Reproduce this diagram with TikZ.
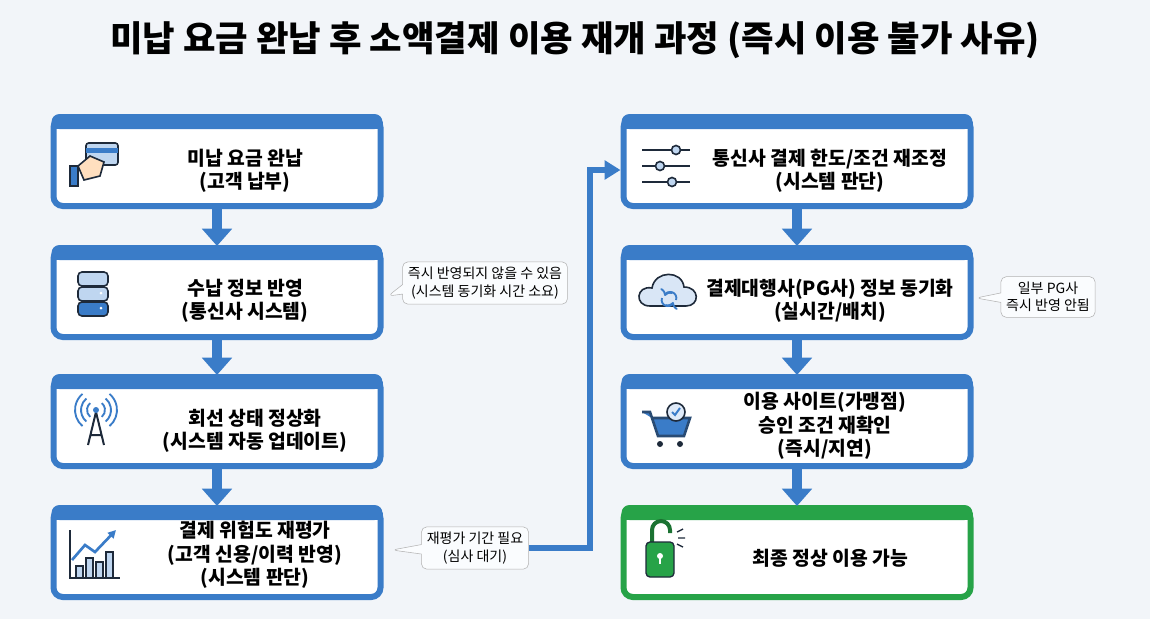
\documentclass[tikz,border=0pt]{standalone}
\usepackage{fontspec}
\setmainfont{Noto Sans CJK KR}
\usetikzlibrary{arrows.meta,shapes.callouts}
\definecolor{bg}{HTML}{F2F5F9}
\definecolor{bl}{HTML}{3A7CC8}
\definecolor{lb}{HTML}{BFD6F0}
\definecolor{gr}{HTML}{27A348}
\definecolor{dk}{HTML}{1E2A3A}
\begin{document}
\begin{tikzpicture}[x=0.75pt,y=-0.75pt,
  box/.style={draw=#1,line width=4.5pt,fill=white,rounded corners=7pt,minimum height=88*0.75pt},
  txt/.style={font=\bfseries\fontsize{14.5}{17.5}\selectfont,align=center,text=black},
  note/.style={draw=gray!60,fill=white!92!lb,rounded corners=4pt,font=\fontsize{10.5}{13}\selectfont,align=center,text=black,inner sep=4pt},
  arr/.style={draw=bl,line width=8pt,-{Triangle[width=22pt,length=13pt]}},
  ic/.style={draw=dk,line width=1.2pt,fill=lb}]
\fill[bg] (0,0) rectangle (1150,619);
\useasboundingbox (0,0) rectangle (1150,619);
\node[font=\bfseries\fontsize{26.5}{30}\selectfont] (title) at (575,40) {미납 요금 완납 후 소액결제 이용 재개 과정 (즉시 이용 불가 사유)};
% boxes
\foreach \n/\x/\y/\c/\w in {b1/217/162/bl/327,b2/217/293/bl/327,b3/217/422/bl/327,b4/217/553/bl/327,b5/797/162/bl/347,b6/797/293/bl/347,b7/797/422/bl/347,b8/797/553/gr/347}{
  \node[box=\c,minimum width=\w*0.75pt] (\n) at (\x,\y) {};
  \fill[\c,rounded corners=6pt] (\x-\w/2-2,\y-48) rectangle (\x+\w/2+2,\y-33);
  \fill[\c] (\x-\w/2-2,\y-40) rectangle (\x+\w/2+2,\y-33);
}
\node[txt] (t1) at (245,171) {미납 요금 완납\\(고객 납부)};
\node[txt] (t2) at (245,301) {수납 정보 반영\\(통신사 시스템)};
\node[txt] (t3) at (255,431) {회선 상태 정상화\\(시스템 자동 업데이트)};
\node[txt] (t4) at (255,555) {결제 위험도 재평가\\(고객 신용/이력 반영)\\(시스템 판단)};
\node[txt] (t5) at (830,171) {통신사 결제 한도/조건 재조정\\(시스템 판단)};
\node[txt] (t6) at (830,301) {결제대행사(PG사) 정보 동기화\\(실시간/배치)};
\node[txt] (t7) at (825,426) {이용 사이트(가맹점)\\승인 조건 재확인\\(즉시/지연)};
\node[txt] (t8) at (830,558) {최종 정상 이용 가능};
% arrows
\draw[arr] (b1.south) -- (b2.north);
\draw[arr] (b2.south) -- (b3.north);
\draw[arr] (b3.south) -- (b4.north);
\draw[arr] (b5.south) -- (b6.north);
\draw[arr] (b6.south) -- (b7.north);
\draw[arr] (b7.south) -- (b8.north);
% notes
\node[note,rectangle callout,callout absolute pointer={(388,296)}] (n1) at (485,283) {즉시 반영되지 않을 수 있음\\(시스템 동기화 시간 소요)};
\node[note,rectangle callout,callout absolute pointer={(976,298)}] (n2) at (1048,297) {일부 PG사\\즉시 반영 안됨};
\node[note,rectangle callout,callout absolute pointer={(392,550)}] (n3) at (475,548) {재평가 기간 필요\\(심사 대기)};
\coordinate (c1) at (590,548);
\coordinate (c2) at (590,170);
\draw[bl,line width=4pt,-{Triangle[width=14pt,length=12pt]}] (n3.east|-c1) -- (c1) -- (c2) -- (b5.west|-c2);
% icon 1 card+hand
\draw[ic,rounded corners=2pt] (86,143) rectangle (118,165);
\fill[bl] (86,148) rectangle (118,153);
\draw[dk,line width=1.2pt,fill=orange!25] (78,166) -- (90,156) -- (104,162) -- (100,176) -- (84,180) -- cycle;
\draw[ic,fill=bl] (70,166) rectangle (78,186);
% icon 2 database
\foreach \yy/\f in {272/lb,287/lb,302/bl}{
  \draw[ic,fill=\f,rounded corners=3pt] (78,\yy) rectangle (108,\yy+14);}
\fill[white] (101,293) circle (1.5) (101,308) circle (1.5);
% icon 3 antenna
\draw[dk,line width=1.5pt] (96,412) -- (88,445) (96,412) -- (104,445) (90,435) -- (102,435);
\fill[bl] (96,410) circle (3);
\foreach \r in {9,15,21}{
  \draw[bl,line width=1.4pt] (96,410) ++(130:\r) arc (130:230:\r);
  \draw[bl,line width=1.4pt] (96,410) ++(50:\r) arc (50:-50:\r);}
% icon 4 chart
\draw[dk,line width=1.4pt] (70,530) -- (70,578) -- (120,578);
\foreach \bx/\bh in {76/12,86/20,96/16,106/26}{\draw[ic] (\bx,578) rectangle (\bx+7,578-\bh);}
\draw[bl,line width=2pt,-{Triangle[width=6pt,length=6pt]}] (72,560) -- (85,545) -- (95,552) -- (116,530);
% icon 5 sliders
\foreach \yy/\xx in {150/676,166/660,182/672}{
  \draw[dk,line width=1.4pt] (642,\yy) -- (690,\yy);
  \draw[ic] (\xx,\yy) circle (4.5);}
% icon 6 cloud
\draw[ic,fill=lb!60] (650,306) .. controls (634,306) and (636,285) .. (652,288) .. controls (655,270) and (682,270) .. (684,287) .. controls (700,287) and (700,306) .. (686,306) -- cycle;
\draw[bl,line width=1.4pt,->] (662,298) arc (200:20:6);
\draw[bl,line width=1.4pt,->] (676,300) arc (20:-160:6);
% icon 7 cart
\draw[dk!60!bl,line width=2pt,fill=bl] (642,412) -- (650,412) -- (658,436) -- (684,436) -- (690,418) -- (652,418);
\draw[ic,fill=lb!50] (676,412) circle (9);
\draw[bl,line width=1.5pt] (672,412) -- (675,415) -- (680,408);
\fill[dk] (660,444) circle (3) (680,444) circle (3);
% icon 8 lock
\draw[gr!70!black,line width=3pt] (652,542) -- (652,530) arc (180:360:9) -- (670,533);
\draw[dk,line width=1pt,fill=gr,rounded corners=3pt] (646,542) rectangle (674,577);
\fill[white] (660,556) circle (3); \fill[white] (659,556) rectangle (661,564);
\draw[dk,line width=1pt] (677,532) -- (683,529) (678,538) -- (685,538) (677,544) -- (683,547);
\end{tikzpicture}
\end{document}
